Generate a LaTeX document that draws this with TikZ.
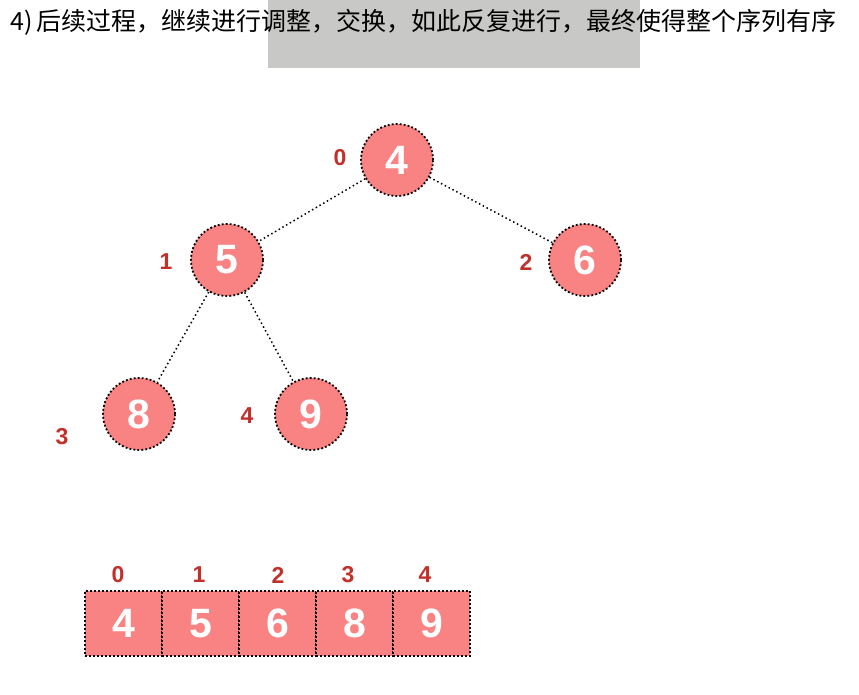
\documentclass[tikz,border=0pt]{standalone}
\usepackage{fontspec}
\setmainfont{Liberation Sans}
\newfontfamily\cjk{Noto Sans CJK SC}
\usepackage{tikz}
\usetikzlibrary{shapes}
\definecolor{heapred}{HTML}{F98282}
\definecolor{idxred}{HTML}{C2302B}
\definecolor{panelgray}{HTML}{C8C8C6}
\tikzset{
	main node/.style={circle,draw,line width=1.8pt,dash pattern=on 1.8pt off 2.2pt,fill=heapred,text=white,minimum size=72pt,inner sep=0pt,font=\fontsize{41}{41}\selectfont\bfseries},
	cell/.style={rectangle,draw,line width=1.8pt,dash pattern=on 1.8pt off 2.2pt,fill=heapred,text=white,minimum width=77pt,minimum height=65pt,inner sep=0pt,font=\fontsize{41}{41}\selectfont\bfseries},
	index/.style={text=idxred,font=\fontsize{23}{23}\selectfont\bfseries},
	link/.style={line width=1.5pt,dash pattern=on 1.5pt off 2.8pt}
}

\begin{document}
\begin{tikzpicture}[x=1pt,y=-1pt]
	\useasboundingbox (0,0) rectangle (859,695);
	\fill[white] (0,0) rectangle (859,695);
	\fill[panelgray] (268,0) rectangle (640,68);
	\node[anchor=base west,inner sep=0pt,font=\cjk\fontsize{25}{25}\selectfont] (title) at (10,31) {4)\,后续过程，继续进行调整，交换，如此反复进行，最终使得整个序列有序};
	% tree
	\node [main node] (0) at (397,160) {4};
	\node [main node] (1) at (227,260) {5};
	\node [main node] (2) at (585,260) {6};
	\node [main node] (3) at (139,414) {8};
	\node [main node] (4) at (311,414) {9};
	\node [index] (l0) at (340,158) {0};
	\node [index] (l1) at (166,262) {1};
	\node [index] (l2) at (526,262) {2};
	\node [index] (l3) at (62,437) {3};
	\node [index] (l4) at (247,416) {4};
	\draw [link] (0) -- (1);
	\draw [link] (0) -- (2);
	\draw [link] (1) -- (3);
	\draw [link] (1) -- (4);
	% array
	\foreach \v [count=\i from 0] in {4,5,6,8,9}{
		\node [cell] (c\i) at (123.5+77*\i,623.5) {\v};
	}
	\node [index] (a0) at (118,575) {0};
	\node [index] (a1) at (199,575) {1};
	\node [index] (a2) at (278,575) {2};
	\node [index] (a3) at (348,575) {3};
	\node [index] (a4) at (425,575) {4};
\end{tikzpicture}
\end{document}
